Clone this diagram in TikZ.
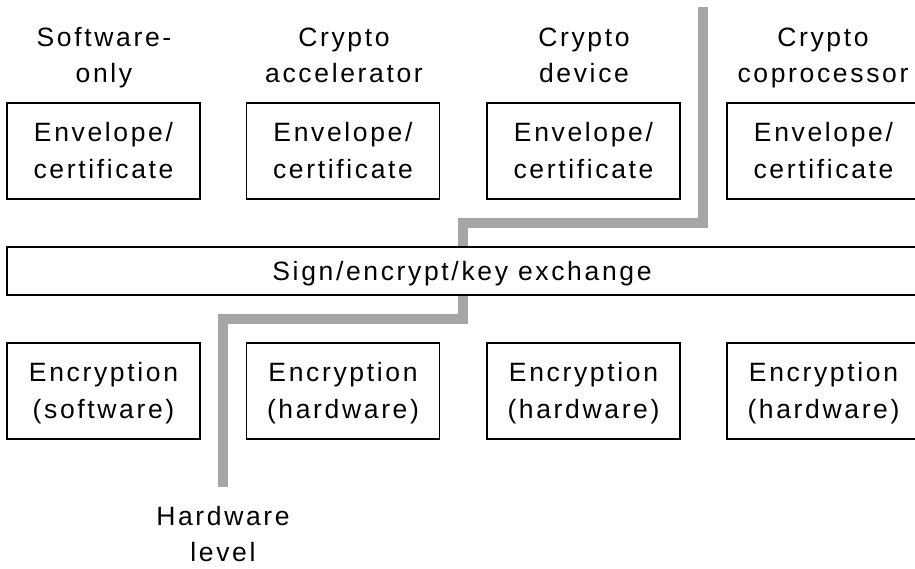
\documentclass[tikz,border=0pt]{standalone}
\usepackage{fontspec}
\setmainfont{Liberation Sans}
\newfontfamily\lbl[LetterSpace=10]{Liberation Sans}
\begin{document}
\begin{tikzpicture}[x=1pt,y=-1pt,
  box/.style={draw=black, line width=1.6pt, fill=white, inner sep=0pt,
              minimum width=193pt, minimum height=96pt},
  wide/.style={draw=black, line width=1.6pt, fill=white, inner sep=0pt,
              minimum width=912pt, minimum height=48pt},
  txt/.style={font=\lbl\fontsize{26.5}{37}\selectfont, anchor=base, inner sep=0pt},
  hwline/.style={draw=gray!70, line width=10.5pt, line join=miter}]
\useasboundingbox (0,0) rectangle (915,568);
\fill[white] (0,0) rectangle (915,568);

% hardware-level boundary line
\coordinate (gtop) at (703,7);
\coordinate (g1) at (463,223);
\coordinate (g2) at (463,319);
\coordinate (gbot) at (223,487);
\draw[hwline] (gtop) |- (g1) -- (g2) -| (gbot);

% column headings
\node[txt] (h1a) at (104,46) {Software-};
\node[txt] (h1b) at (104,82) {only};
\node[txt] (h2a) at (344,46) {Crypto};
\node[txt] (h2b) at (344,82) {accelerator};
\node[txt] (h3a) at (584,46) {Crypto};
\node[txt] (h3b) at (584,82) {device};
\node[txt] (h4a) at (823,46) {Crypto};
\node[txt] (h4b) at (823,82) {coprocessor};

% envelope boxes
\node[box] (e1) at (103.5,151) {};
\node[box] (e2) at (343,151) {};
\node[box] (e3) at (583.5,151) {};
\node[box] (e4) at (823.5,151) {};
\foreach \n in {e1,e2,e3,e4}{
  \node[txt] at ([yshift=10pt]\n.center) {Envelope/};
  \node[txt] at ([yshift=-27pt]\n.center) {certificate};
}

% sign box
\node[wide] (sg) at (463,271) {};
\node[txt] (sgt) at (462,280) {Sign/encrypt/key exchange};

% encryption boxes
\node[box] (c1) at (103.5,391) {};
\node[box] (c2) at (343,391) {};
\node[box] (c3) at (583.5,391) {};
\node[box] (c4) at (823.5,391) {};
\node[txt] at ([yshift=10pt]c1.center) {Encryption};
\node[txt] at ([yshift=-27pt]c1.center) {(software)};
\foreach \n in {c2,c3,c4}{
  \node[txt] at ([yshift=10pt]\n.center) {Encryption};
  \node[txt] at ([yshift=-27pt]\n.center) {(hardware)};
}

% hardware level label
\node[txt] (hl1) at (223,525) {Hardware};
\node[txt] (hl2) at (223,561) {level};
\end{tikzpicture}
\end{document}
